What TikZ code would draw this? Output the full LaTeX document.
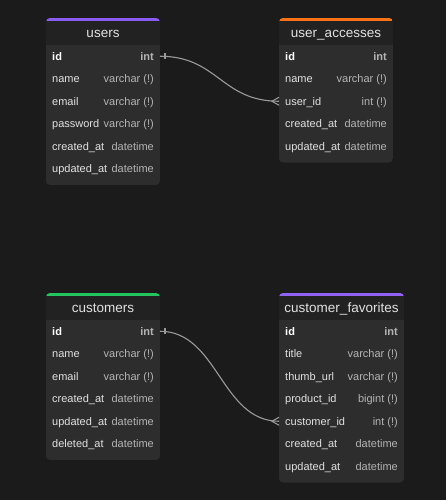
\documentclass[tikz,border=0pt]{standalone}
\usepackage{fontspec}
\setmainfont{Liberation Sans}
\usetikzlibrary{calc}

\definecolor{canvas}{HTML}{1B1B1B}
\definecolor{tbody}{HTML}{2D2D2D}
\definecolor{thead}{HTML}{222222}
\definecolor{accentviolet}{HTML}{8A5CF5}
\definecolor{accentorange}{HTML}{F97316}
\definecolor{accentgreen}{HTML}{22C55E}
\definecolor{accentlilac}{HTML}{9162F5}
\definecolor{namecol}{HTML}{E2E2E2}
\definecolor{typecol}{HTML}{B4B4B4}
\definecolor{linkcol}{HTML}{9A9A9A}

\tikzset{
  titletext/.style={text=namecol, font=\fontsize{13.5}{15}\selectfont, inner sep=0pt},
  fieldname/.style={text=namecol, font=\fontsize{11}{13}\selectfont, inner sep=0pt},
  fieldtype/.style={text=typecol, font=\fontsize{11}{13}\selectfont, inner sep=0pt},
  rel/.style={draw=linkcol, line width=1.1pt},
}

% #1 key, #2 left x, #3 top y, #4 width, #5 row count, #6 accent, #7 title, #8 rows
\newcommand\dbtable[8]{%
  \pgfmathsetmacro\dbbot{#3+27+22.5*#5+5}%
  \pgfmathsetmacro\dbright{#2+#4}%
  \begin{scope}
    \path[clip, rounded corners=4pt] (#2,#3) rectangle (\dbright,\dbbot);
    \fill[tbody] (#2,#3) rectangle (\dbright,\dbbot);
    \fill[thead] (#2,#3) rectangle (\dbright,#3+27);
    \fill[#6] (#2,#3) rectangle (\dbright,#3+3);
  \end{scope}
  \node[titletext, anchor=base] (#1-title) at (#2+#4/2,#3+19.5) {#7};
  \foreach \fn/\ft [count=\k] in {#8} {
    \pgfmathsetmacro\ry{#3+27+22.5*(\k-0.5)}
    \node[fieldname, anchor=base west] (#1-f\k) at (#2+6,\ry+4) {\fn};
    \node[fieldtype, anchor=base east] (#1-t\k) at (\dbright-6,\ry+4) {\ft};
    \coordinate (#1-w\k) at (#2,\ry);
    \coordinate (#1-e\k) at (\dbright,\ry);
  }%
}

\newcommand\pk[1]{\textcolor{white}{\bfseries #1}}
\newcommand\pkt[1]{{\bfseries #1}}

\begin{document}
\begin{tikzpicture}[x=1pt,y=-1pt]
  \fill[canvas] (0,0) rectangle (446,500);
  \useasboundingbox (0,0) rectangle (446,500);

  \dbtable{users}{46}{18}{114}{6}{accentviolet}{users}{
    {\pk{id}}/{\pkt{int}},
    name/{varchar (!)},
    email/{varchar (!)},
    password/{varchar (!)},
    created\_at/datetime,
    updated\_at/datetime}

  \dbtable{access}{279}{18}{114}{5}{accentorange}{user\_accesses}{
    {\pk{id}}/{\pkt{int}},
    name/{varchar (!)},
    user\_id/{int (!)},
    created\_at/datetime,
    updated\_at/datetime}

  \dbtable{cust}{46}{293}{114}{6}{accentgreen}{customers}{
    {\pk{id}}/{\pkt{int}},
    name/{varchar (!)},
    email/{varchar (!)},
    created\_at/datetime,
    updated\_at/datetime,
    deleted\_at/datetime}

  \dbtable{favs}{279}{293}{125}{7}{accentlilac}{customer\_favorites}{
    {\pk{id}}/{\pkt{int}},
    title/{varchar (!)},
    thumb\_url/{varchar (!)},
    product\_id/{bigint (!)},
    customer\_id/{int (!)},
    created\_at/datetime,
    updated\_at/datetime}

  % users.id -> user_accesses.user_id
  \draw[rel] (users-e1) .. controls ($(users-e1)+(58,0)$) and ($(access-w3)+(-58,0)$) .. (access-w3);
  \draw[rel] ($(users-e1)+(5,-3)$) -- ($(users-e1)+(5,3)$);
  \draw[rel] ($(access-w3)+(0,-4)$) -- ($(access-w3)+(-7,0)$) -- ($(access-w3)+(0,4)$);

  % customers.id -> customer_favorites.customer_id
  \draw[rel] (cust-e1) .. controls ($(cust-e1)+(58,0)$) and ($(favs-w5)+(-58,0)$) .. (favs-w5);
  \draw[rel] ($(cust-e1)+(5,-3)$) -- ($(cust-e1)+(5,3)$);
  \draw[rel] ($(favs-w5)+(0,-4)$) -- ($(favs-w5)+(-7,0)$) -- ($(favs-w5)+(0,4)$);
\end{tikzpicture}
\end{document}
